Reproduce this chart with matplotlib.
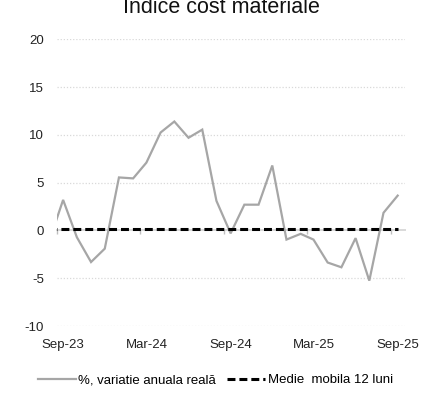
import matplotlib
matplotlib.use("Agg")
import matplotlib.pyplot as plt
import matplotlib.dates as mdates
import pandas as pd
from datetime import datetime

plt.rcParams["font.family"] = ["Liberation Sans", "DejaVu Sans"]
plt.rcParams["axes.unicode_minus"] = False

# Monthly observations (plotted mid-month)
months = pd.period_range("2023-08", "2025-09", freq="M")
real_change = [-1.2, 3.2, -0.7, -3.3, -1.9, 5.55, 5.45, 7.1, 10.25, 11.4, 9.7, 10.55,
               3.1, -0.3, 2.7, 2.7, 6.8, -0.95, -0.35, -0.95, -3.35, -3.85, -0.8,
               -5.25, 1.85, 3.65]
moving_avg = [0.2, 0.2, 0.2, 0.2, 0.2, 0.2, 0.2, 0.2, 0.2, 0.2, 0.2, 0.2, 0.2,
              0.2, 0.2, 0.2, 0.2, 0.2, 0.2, 0.2, 0.2, 0.2, 0.2, 0.2, 0.2, 0.2]
y_ticks = [-10, -5, 0, 5, 10, 15, 20]

title = "Indice cost materiale"
label_real = "%, variatie anuala reală"
label_ma = "Medie  mobila 12 luni"

x = mdates.date2num((months.to_timestamp() + pd.Timedelta(days=14)).to_pydatetime())

fig = plt.figure(figsize=(4.27, 4.01), dpi=100)
ax = fig.add_axes([0.1328, 0.1868, 0.8157, 0.7152])

grid_c = "#D9D9D9"
for yv in y_ticks:
    if yv != 0:
        ax.axhline(yv, color=grid_c, lw=0.9, ls=(0, (1, 1.5)), zorder=0)

l1, = ax.plot(x, real_change, color="#A6A6A6", lw=1.6, zorder=2,
              solid_joinstyle="miter", label=label_real)
l2, = ax.plot(x, moving_avg, color="black", lw=2.2, ls=(0, (2.6, 1.3)),
              zorder=3, label=label_ma)

ax.set_xlim(mdates.date2num(datetime(2023, 9, 1)), mdates.date2num(datetime(2025, 10, 1)))
ax.set_ylim(-10, 20)
ax.set_yticks(y_ticks)
ax.tick_params(axis="y", length=0, pad=9, labelsize=9.5, labelcolor="#222222")

for s in ["left", "top", "right"]:
    ax.spines[s].set_visible(False)
ax.spines["bottom"].set_position(("data", 0))
ax.spines["bottom"].set_color(grid_c)
ax.spines["bottom"].set_linewidth(1.4)
ax.spines["bottom"].set_zorder(1)
ax.xaxis.set_major_locator(mdates.MonthLocator(bymonth=[3, 9], bymonthday=1))
ax.xaxis.set_major_formatter(plt.NullFormatter())
ax.tick_params(axis="x", direction="out", length=3, width=1, color="#BFBFBF")

sec = ax.secondary_xaxis("bottom")
sec.xaxis.set_major_locator(mdates.MonthLocator(bymonth=[3, 9], bymonthday=15))
sec.xaxis.set_major_formatter(mdates.DateFormatter("%b-%y"))
sec.tick_params(axis="x", length=0, pad=9, labelsize=9.5, labelcolor="#222222")
sec.spines["bottom"].set_visible(False)

fig.text(0.518, 0.968, title, ha="center", va="baseline", fontsize=15.5, color="#111111")

fig.legend(handles=[l1, l2], loc="center", bbox_to_anchor=(0.504, 0.052), ncol=2,
           frameon=False, fontsize=9.5, handlelength=2.9, handletextpad=0.2,
           columnspacing=0.8, borderpad=0)

fig.savefig("out.png", dpi=100)
